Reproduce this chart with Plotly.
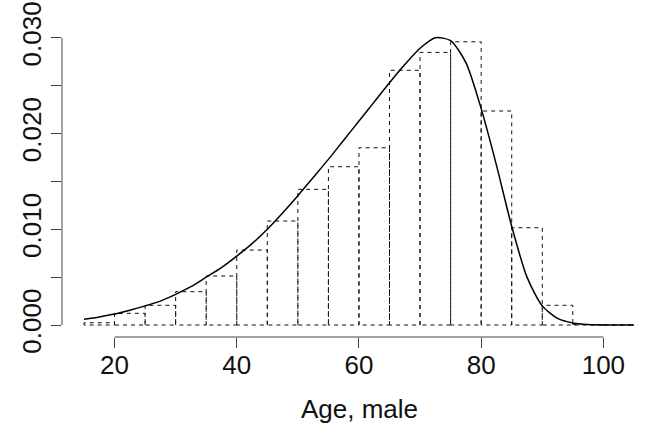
import plotly.graph_objects as go

# ---- data ----
bin_left = [15, 20, 25, 30, 35, 40, 45, 50, 55, 60, 65, 70, 75, 80, 85, 90, 95, 100]
bin_width = 5
density = [0.00024, 0.00122, 0.00206, 0.00348, 0.00512, 0.00783, 0.01086, 0.01417,
           0.01653, 0.01851, 0.02660, 0.02847, 0.02958, 0.02235, 0.01016, 0.00206,
           0.00005, 0.00002]

curve_age = [15, 17.5, 20, 22.5, 25, 27.5, 30, 32.5, 35, 37.5, 40, 42.5, 45, 47.5, 50,
             52.5, 55, 57.5, 60, 62.5, 65, 67.5, 70, 72.5, 75, 77.5, 80, 82.5,
             85, 87.5, 90, 92.5, 95, 97.5, 100, 102.5, 105]
curve_dens = [0.0006, 0.00085, 0.00115, 0.00155, 0.0020, 0.0025, 0.0032, 0.0040, 0.0050,
              0.0060, 0.0072, 0.0085, 0.0100, 0.0117, 0.0135, 0.0154, 0.0173, 0.0193,
              0.0213, 0.0233, 0.0253, 0.0272, 0.0289, 0.0300, 0.0297, 0.0274,
              0.0226, 0.0167, 0.0103, 0.0050, 0.0020, 0.0007, 0.00022, 0.00006,
              0.00001, 0.0, 0.0]

x_ticks = [20, 40, 60, 80, 100]
y_ticks = [0.000, 0.005, 0.010, 0.015, 0.020, 0.025, 0.030]
y_ticktext = ["0.000", "", "0.010", "", "0.020", "", "0.030"]
x_label = "Age, male"

# ---- build histogram outlines ----
hx, hy = [], []
for l, h in zip(bin_left, density):
    r = l + bin_width
    hx += [l, l, r, r, l, None]
    hy += [0, h, h, 0, 0, None]

FONT = "Liberation Sans, Arial, sans-serif"
fig = go.Figure()
fig.add_trace(go.Scatter(x=hx, y=hy, mode="lines",
                         line=dict(color="#111111", width=1, dash="4px,4px"),
                         hoverinfo="skip", showlegend=False))
fig.add_trace(go.Scatter(x=curve_age, y=curve_dens, mode="lines",
                         line=dict(color="#000000", width=1.5, shape="spline", smoothing=0.7),
                         showlegend=False))

fig.update_layout(
    width=647, height=433,
    margin=dict(l=62, r=0, t=25, b=96),
    paper_bgcolor="white", plot_bgcolor="white",
    font=dict(family=FONT, size=26, color="#111111"),
    xaxis=dict(range=[11.4, 107.14], tickvals=x_ticks, ticks="outside", ticklen=10,
               tickcolor="#444444", tickwidth=1, showline=False, showgrid=False,
               zeroline=False, tickfont=dict(size=26), automargin=False,
               ticklabelstandoff=-5, ticklabeloverflow="allow"),
    yaxis=dict(range=[-0.00125, 0.03133], tickvals=y_ticks, ticktext=y_ticktext,
               ticks="outside", ticklen=10, tickcolor="#444444", tickwidth=1,
               tickangle=-90, showline=False, showgrid=False, zeroline=False,
               tickfont=dict(size=26), automargin=False, ticklabeloverflow="allow"),
    shapes=[
        dict(type="line", xref="x", yref="paper", x0=x_ticks[0], x1=x_ticks[-1], y0=0, y1=0,
             line=dict(color="#444444", width=1)),
        dict(type="line", xref="paper", yref="y", x0=0, x1=0, y0=y_ticks[0], y1=y_ticks[-1],
             line=dict(color="#444444", width=1)),
    ],
    annotations=[dict(text=x_label, xref="paper", yref="paper", x=0.5077, y=-0.232,
                      xanchor="center", yanchor="middle", showarrow=False,
                      font=dict(size=26, family=FONT))],
)

fig.write_html("out.html", config={"displayModeBar": False},
               post_script="document.body.style.margin='0';document.body.style.overflow='hidden';")
